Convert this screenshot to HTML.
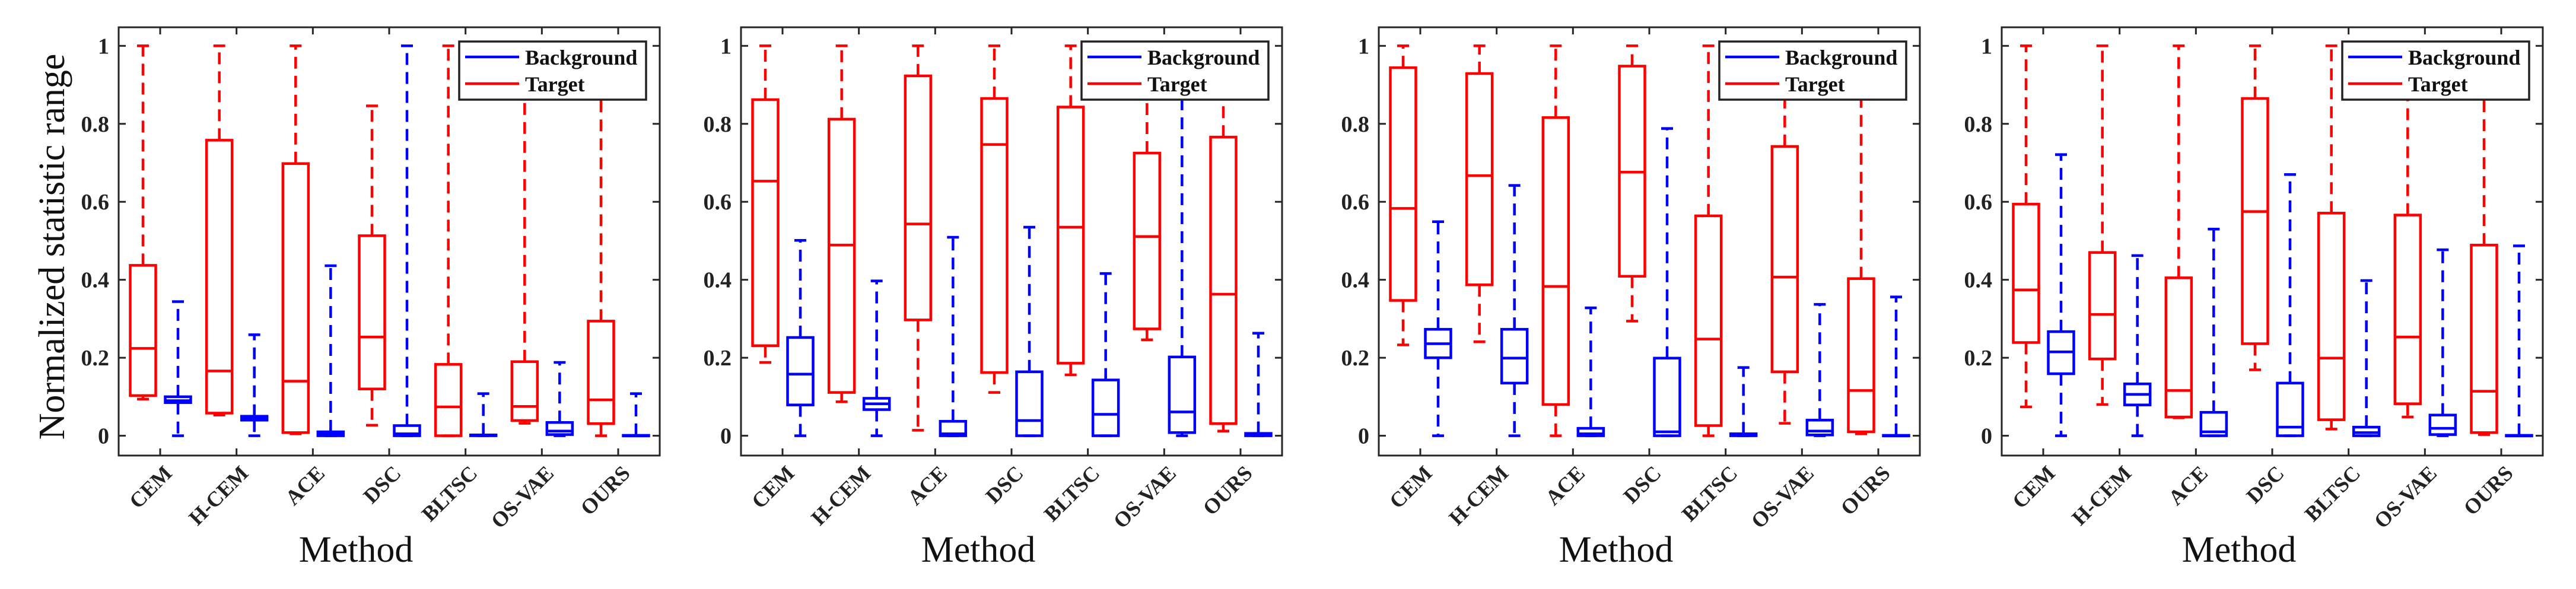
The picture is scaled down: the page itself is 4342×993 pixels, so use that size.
<!DOCTYPE html>
<html><head><meta charset="utf-8"><style>
html,body{margin:0;padding:0;background:#fff;}
svg{display:block;}
text{font-family:"Liberation Serif","Times New Roman",serif;}
</style></head><body>
<svg id="chart" width="4342" height="993" viewBox="0 0 4342 993" xmlns="http://www.w3.org/2000/svg"></svg>
<script>
// Categories and tick labels
const methods = ["CEM","H-CEM","ACE","DSC","BLTSC","OS-VAE","OURS"];
const yTicks = [0,0.2,0.4,0.6,0.8,1];
const yTickLabels = ["0","0.2","0.4","0.6","0.8","1"];
// Each stat = [whiskerLow, q1, median, q3, whiskerHigh]
const p1Target = [[0.094,0.103,0.224,0.437,1],[0.053,0.058,0.166,0.758,1],[0.005,0.008,0.14,0.698,1],[0.027,0.12,0.253,0.513,0.846],[0,0,0.074,0.183,1],[0.032,0.039,0.075,0.19,1],[0,0.031,0.092,0.294,1]];
const p1Background = [[0,0.085,0.09,0.1,0.344],[0,0.04,0.045,0.05,0.259],[0,0,0.005,0.01,0.436],[0,0,0.005,0.026,1],[0,0,0.001,0.002,0.108],[0,0.003,0.012,0.034,0.188],[0,0,0,0.001,0.108]];
const p2Target = [[0.188,0.231,0.653,0.862,1],[0.087,0.111,0.489,0.812,1],[0.014,0.297,0.543,0.923,1],[0.111,0.162,0.747,0.865,1],[0.156,0.186,0.535,0.843,1],[0.246,0.274,0.511,0.725,1],[0.012,0.031,0.363,0.766,1]];
const p2Background = [[0,0.079,0.158,0.252,0.501],[0,0.067,0.082,0.096,0.397],[0,0,0.005,0.037,0.509],[0,0,0.039,0.164,0.535],[0,0,0.055,0.143,0.416],[0,0.008,0.061,0.202,1],[0,0,0.003,0.006,0.263]];
const p3Target = [[0.233,0.347,0.583,0.944,1],[0.241,0.387,0.667,0.929,1],[0,0.08,0.383,0.816,1],[0.294,0.409,0.676,0.948,1],[0,0.026,0.248,0.564,1],[0.032,0.164,0.407,0.742,1],[0.005,0.01,0.116,0.403,1]];
const p3Background = [[0,0.2,0.236,0.273,0.549],[0,0.135,0.199,0.273,0.642],[0,0,0.005,0.019,0.328],[0,0,0.01,0.199,0.788],[0,0,0.003,0.005,0.175],[0,0.002,0.012,0.04,0.337],[0,0,0,0.001,0.356]];
const p4Target = [[0.074,0.239,0.374,0.594,1],[0.08,0.197,0.311,0.47,1],[0.046,0.048,0.116,0.405,1],[0.169,0.236,0.575,0.865,1],[0.017,0.041,0.199,0.571,1],[0.048,0.082,0.253,0.566,1],[0.003,0.008,0.114,0.489,1]];
const p4Background = [[0,0.159,0.215,0.267,0.721],[0,0.079,0.106,0.133,0.462],[0,0,0.01,0.06,0.53],[0,0,0.022,0.135,0.67],[0,0,0.008,0.022,0.398],[0,0.003,0.019,0.053,0.477],[0,0,0,0.001,0.487]];

const panelTargets = [p1Target,p2Target,p3Target,p4Target];
const panelBackgrounds = [p1Background,p2Background,p3Background,p4Background];

const NS = "http://www.w3.org/2000/svg";
const svg = document.getElementById('chart');
const panelLefts = [200,1249,2324,3374];
const AX_W = 912, AX_TOP = 46, AX_BOT = 768, Y0 = 734.6, Y1 = 77.3;
const RED = "#ff0000", BLUE = "#0000ff", AXC = "#262626";

function mk(tag, attrs, parent){
  const e = document.createElementNS(NS, tag);
  for (const k in attrs) e.setAttribute(k, attrs[k]);
  (parent||svg).appendChild(e);
  return e;
}
function yScale(v){ return Y0 - v*(Y0-Y1); }
function xScale(left, i){ return left + 70 + i*((AX_W-140)/(methods.length-1)); }

function drawBox(g, cx, s, color){
  const bw = 43, cap = 20;
  const box = document.createElementNS(NS,'g');
  
  
  g.appendChild(box);
  const common = {stroke: color, 'stroke-width': 4.5, fill: 'none'};
  // whiskers
  mk('line', Object.assign({x1:cx,x2:cx,y1:yScale(s[3]),y2:yScale(s[4]),'stroke-dasharray':'20 12'},common), box);
  mk('line', Object.assign({x1:cx,x2:cx,y1:yScale(s[1]),y2:yScale(s[0]),'stroke-dasharray':'20 12'},common), box);
  // caps
  mk('line', Object.assign({x1:cx-cap/2,x2:cx+cap/2,y1:yScale(s[4]),y2:yScale(s[4])},common), box);
  mk('line', Object.assign({x1:cx-cap/2,x2:cx+cap/2,y1:yScale(s[0]),y2:yScale(s[0])},common), box);
  // box
  mk('rect', Object.assign({x:cx-bw/2,y:yScale(s[3]),width:bw,height:Math.max(1,yScale(s[1])-yScale(s[3]))},common), box);
  mk('line', Object.assign({x1:cx-bw/2,x2:cx+bw/2,y1:yScale(s[2]),y2:yScale(s[2])},common), box);
}

panelLefts.forEach((L, p) => {
  const g = mk('g', {});
  
  
  // boxes
  methods.forEach((m, i) => {
    const tx = xScale(L, i);
    drawBox(g, tx-29, panelTargets[p][i], RED);
    drawBox(g, tx+30, panelBackgrounds[p][i], BLUE);
  });
  // axes frame
  const fr = mk('rect', {x:L,y:AX_TOP,width:AX_W,height:AX_BOT-AX_TOP,fill:'none',stroke:AXC,'stroke-width':3}, g);
  
  
  // y ticks
  yTicks.forEach((v, k) => {
    const y = yScale(v);
    mk('line', {x1:L,x2:L+12,y1:y,y2:y,stroke:AXC,'stroke-width':3}, g);
    mk('line', {x1:L+AX_W-12,x2:L+AX_W,y1:y,y2:y,stroke:AXC,'stroke-width':3}, g);
    const t = mk('text', {x:L-16,y:y+13,'text-anchor':'end','font-size':38,'font-weight':'bold',fill:'#222'}, g);
    
    
    t.textContent = yTickLabels[k];
  });
  // x ticks + labels
  methods.forEach((m, i) => {
    const x = xScale(L, i);
    mk('line', {x1:x,x2:x,y1:AX_BOT,y2:AX_BOT-12,stroke:AXC,'stroke-width':3}, g);
    mk('line', {x1:x,x2:x,y1:AX_TOP,y2:AX_TOP+12,stroke:AXC,'stroke-width':3}, g);
    const t = mk('text', {x:x+22,y:800,'text-anchor':'end','font-size':36,'font-weight':'bold',fill:'#222',transform:`rotate(-45 ${x+22} 800)`}, g);
    
    
    t.textContent = m;
  });
  // x axis title
  const xt = mk('text', {x:L+400,y:947,'text-anchor':'middle','font-size':62,fill:'#111'}, g);
  
  
  xt.textContent = 'Method';
  // legend
  const lg = mk('g', {}, g);
  
  
  mk('rect', {x:L+574,y:70,width:315,height:98,fill:'#fff',stroke:'#222','stroke-width':3.5}, lg);
  const e1 = mk('line', {x1:L+584,x2:L+675,y1:96,y2:96,stroke:BLUE,'stroke-width':4.5}, lg);
  
  
  const t1 = mk('text', {x:L+685,y:109,'font-size':36,'font-weight':'bold',fill:'#111'}, lg);
  
  
  t1.textContent = 'Background';
  const e2 = mk('line', {x1:L+584,x2:L+675,y1:141,y2:141,stroke:RED,'stroke-width':4.5}, lg);
  
  
  const t2 = mk('text', {x:L+685,y:154,'font-size':36,'font-weight':'bold',fill:'#111'}, lg);
  
  
  t2.textContent = 'Target';
});
// y axis title
const yt = mk('text', {x:0,y:0,'text-anchor':'middle','font-size':62,fill:'#111',transform:'translate(108 416) rotate(-90)'});


yt.textContent = 'Normalized  statistic  range';
</script>
</body></html>
